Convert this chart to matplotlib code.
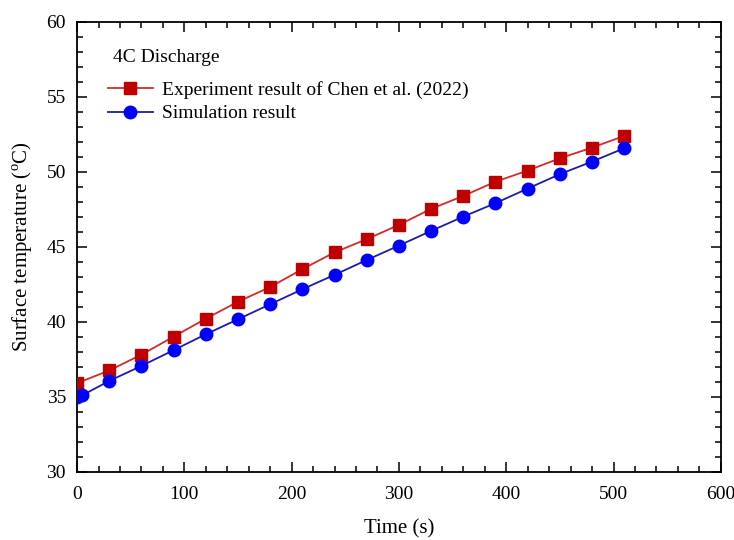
import matplotlib
matplotlib.use("Agg")
import matplotlib.pyplot as plt
from matplotlib.ticker import MultipleLocator

plt.rcParams['font.family'] = ['Liberation Serif', 'DejaVu Serif']
plt.rcParams['mathtext.fontset'] = 'custom'
plt.rcParams['mathtext.rm'] = 'Liberation Serif'

# Surface temperature during a 4C discharge
time_exp = [0, 30, 60, 90, 120, 150, 180, 210, 240, 270, 300, 330, 360, 390,
            420, 450, 480, 510]
temp_exp = [35.9, 36.75, 37.8, 39.0, 40.2, 41.33, 42.31, 43.5, 44.62, 45.5,
            46.45, 47.52, 48.38, 49.33, 50.07, 50.89, 51.6, 52.38]

time_sim = [0, 5, 30, 60, 90, 120, 150, 180, 210, 240, 270, 300, 330, 360,
            390, 420, 450, 480, 510]
temp_sim = [35.0, 35.1, 36.05, 37.05, 38.1, 39.16, 40.16, 41.16, 42.16, 43.12,
            44.11, 45.07, 46.05, 47.0, 47.9, 48.87, 49.83, 50.67, 51.56]

label_exp = "Experiment result of Chen et al. (2022)"
label_sim = "Simulation result"

fig = plt.figure(figsize=(7.34, 5.4), dpi=100)
ax = fig.add_axes([0.105, 0.1265, 0.877, 0.8335])

ax.plot(time_exp, temp_exp, color='#d42a2a', lw=1.3, marker='s', ms=8.5,
        mfc='#c00000', mec='#c00000', label=label_exp, zorder=3)
ax.plot(time_sim, temp_sim, color='#1c1ca8', lw=1.3, marker='o', ms=9,
        mfc='#0000ff', mec='#0000ff', label=label_sim, zorder=4)

ax.set_xlim(0, 600)
ax.set_ylim(30, 60)
ax.xaxis.set_major_locator(MultipleLocator(100))
ax.xaxis.set_minor_locator(MultipleLocator(20))
ax.yaxis.set_major_locator(MultipleLocator(5))
ax.yaxis.set_minor_locator(MultipleLocator(1))
ax.tick_params(which='both', direction='in', top=True, right=True,
               labelsize=14, width=1.1, colors='black')
ax.tick_params(which='major', length=7)
ax.tick_params(axis='x', which='major', pad=10)
ax.tick_params(axis='y', which='major', pad=8)
ax.tick_params(which='minor', length=4)
for sp in ax.spines.values():
    sp.set_linewidth(1.3)

ax.set_xlabel('Time (s)', fontsize=15, labelpad=12)
ax.set_ylabel(r'Surface temperature ($^{\rm o}$C)', fontsize=15, labelpad=8)

ax.text(0.056, 0.921, '4C Discharge', transform=ax.transAxes,
        fontsize=14, ha='left', va='center')
ax.legend(loc='upper left', bbox_to_anchor=(0.048, 0.868), frameon=False,
          fontsize=14, handlelength=2.3, handletextpad=0.5,
          labelspacing=0.3, borderaxespad=0, borderpad=0)

fig.savefig('out.png', dpi=100)
